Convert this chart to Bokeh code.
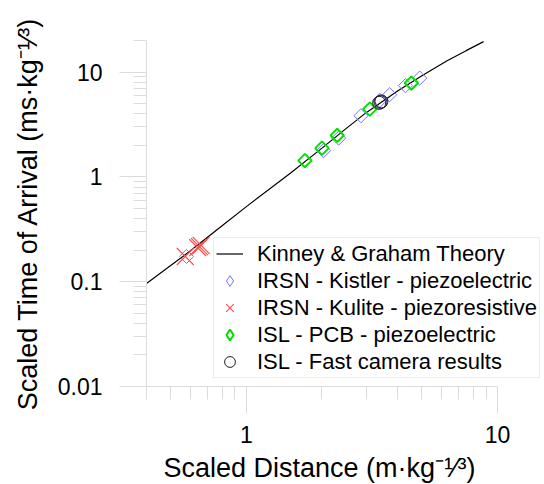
import math
from bokeh.plotting import figure
from bokeh.models import FixedTicker, Legend, LegendItem, Range1d, Title, CustomJSTickFormatter
from bokeh.embed import file_html
from bokeh.resources import INLINE

# --- values ---
theory_x = [0.4, 0.6, 0.8, 1.0, 1.5, 2.0, 2.5, 3.0, 4.0, 5.0, 6.3, 7.5, 8.8]
theory_y = [0.096, 0.198, 0.342, 0.52, 1.09, 1.88, 2.9, 4.1, 6.6, 9.2, 12.8, 16.0, 19.5]

kistler_x = [0.577, 2.03, 2.33, 2.86, 3.40, 3.72, 4.30, 4.90]
kistler_y = [0.174, 1.78, 2.34, 3.83, 5.37, 6.08, 7.41, 8.76]

kulite_x = [0.571, 0.64, 0.65, 0.66]
kulite_y = [0.174, 0.211, 0.216, 0.222]

pcb_x = [1.71, 2.00, 2.30, 3.10, 4.54]
pcb_y = [1.43, 1.88, 2.49, 4.43, 7.85]

camera_x = [3.38, 3.42, 3.45]
camera_y = [5.08, 5.17, 5.25]

x_major = [1, 10]
x_minor = [0.4, 0.5, 0.6, 0.7, 0.8, 0.9, 2, 3, 4, 5, 6, 7, 8, 9]
y_major = [0.01, 0.1, 1, 10]
y_minor = [0.02, 0.03, 0.04, 0.05, 0.06, 0.07, 0.08, 0.09,
           0.2, 0.3, 0.4, 0.5, 0.6, 0.7, 0.8, 0.9,
           2, 3, 4, 5, 6, 7, 8, 9, 20]

x_title = "Scaled Distance (m·kg⁻¹⁄³)"
y_title = "Scaled Time of Arrival (ms·kg⁻¹⁄³)"

FONT = "Liberation Sans"
AXIS_GREY = "#dcdcdc"
BLUE = "#7373ff"
GREEN = "#00e000"

# frame runs on to the right edge so the legend is not cut; the axis itself stops at 10
p = figure(x_axis_type="log", y_axis_type="log",
           x_range=Range1d(0.4, 15.39), y_range=Range1d(0.01, 20),
           frame_width=398, frame_height=346,
           min_border_left=146, min_border_right=0,
           min_border_top=40, min_border_bottom=98,
           output_backend="svg", toolbar_location=None)
p.outline_line_color = None
p.xgrid.visible = False
p.ygrid.visible = False
p.background_fill_color = "white"
p.border_fill_color = "white"

plain = CustomJSTickFormatter(code="return tick.toString()")
for ax in (p.xaxis[0], p.yaxis[0]):
    ax.axis_line_color = AXIS_GREY
    ax.major_tick_line_color = AXIS_GREY
    ax.minor_tick_line_color = AXIS_GREY
    ax.major_tick_in = 0
    ax.minor_tick_in = 0
    ax.major_tick_out = 27
    ax.minor_tick_out = 13
    ax.major_label_text_font = FONT
    ax.major_label_text_font_size = "23px"
    ax.major_label_text_color = "black"
    ax.formatter = plain

p.xaxis.ticker = FixedTicker(ticks=x_major, minor_ticks=x_minor)
p.yaxis.ticker = FixedTicker(ticks=y_major, minor_ticks=y_minor)
p.xaxis.bounds = (0.4, 10)
p.xaxis.major_label_standoff = 12
p.yaxis.major_label_standoff = 17

p.yaxis.axis_label = y_title
p.yaxis.axis_label_text_font = FONT
p.yaxis.axis_label_text_font_size = "27px"
p.yaxis.axis_label_text_font_style = "normal"
p.yaxis.axis_label_text_color = "black"
p.yaxis.axis_label_standoff = 12

p.add_layout(Title(text=x_title, align="left", offset=17, text_font=FONT,
                   text_font_size="27px", text_font_style="normal",
                   text_color="black"), "below")

r_theory = p.line(theory_x, theory_y, line_color="black", line_width=1.2)
r_kistler = p.scatter(kistler_x, kistler_y, marker="square", angle=math.pi / 4, size=10,
                      fill_color=None, line_color=BLUE, line_width=1)
r_kulite = p.scatter(kulite_x, kulite_y, marker="x", size=24,
                     line_color="#ff4d4d", line_width=1.2)
r_pcb = p.scatter(pcb_x, pcb_y, marker="square", angle=math.pi / 4, size=9.5,
                  fill_color=None, line_color=GREEN, line_width=2)
r_camera = p.scatter(camera_x, camera_y, marker="circle", size=13,
                     fill_color=None, line_color="#222222", line_width=1)

# zero-size copies, only so the legend keys are drawn as diamonds
key_kistler = p.scatter(kistler_x, kistler_y, marker="diamond", size=0,
                        fill_color=None, line_color=BLUE, line_width=1)
key_pcb = p.scatter(pcb_x, pcb_y, marker="diamond", size=0,
                    fill_color=None, line_color=GREEN, line_width=2)

legend = Legend(items=[
    LegendItem(label="Kinney & Graham Theory", renderers=[r_theory]),
    LegendItem(label="IRSN - Kistler - piezoelectric", renderers=[key_kistler]),
    LegendItem(label="IRSN - Kulite - piezoresistive", renderers=[r_kulite]),
    LegendItem(label="ISL - PCB - piezoelectric", renderers=[key_pcb]),
    LegendItem(label="ISL - Fast camera results", renderers=[r_camera]),
], location=(67, 8))
legend.margin = 0
legend.padding = 2
legend.spacing = 0
legend.glyph_width = 27
legend.glyph_height = 27
legend.label_standoff = 14
legend.label_text_font = FONT
legend.label_text_font_size = "22px"
legend.label_text_color = "black"
legend.border_line_color = "#d9d9d9"
legend.background_fill_alpha = 1
p.add_layout(legend, "center")

open("out.html", "w").write(file_html(p, INLINE))
